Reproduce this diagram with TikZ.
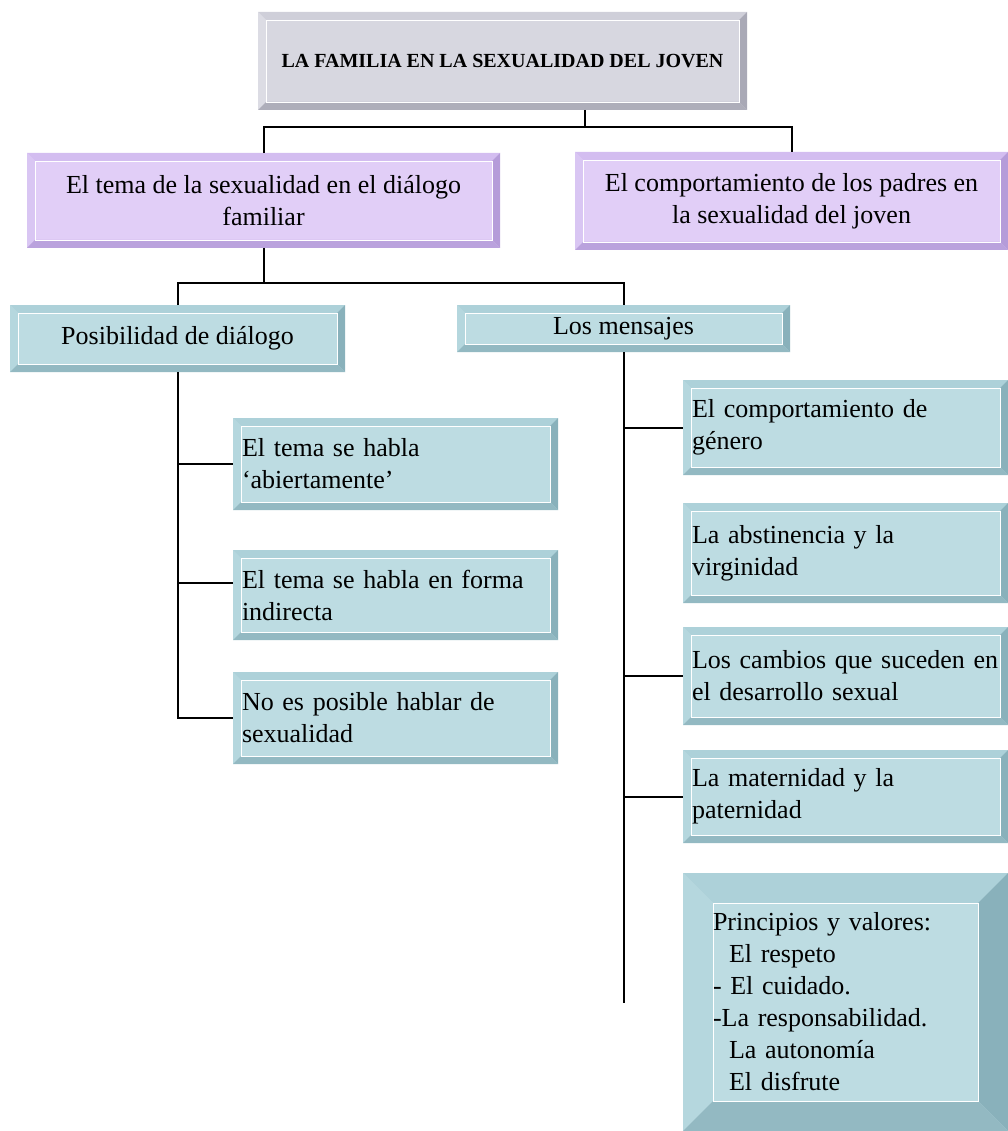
\documentclass[tikz,border=0pt]{standalone}
\usepackage{fontspec}
\setmainfont{Liberation Serif}

% colours of the bevelled boxes
\definecolor{famface}{HTML}{D7D7E0}
\definecolor{famtop}{HTML}{CFCFD9}
\definecolor{famleft}{HTML}{DCDCE4}
\definecolor{famright}{HTML}{A9A9B6}
\definecolor{fambot}{HTML}{AEAEBA}
\definecolor{lilaface}{HTML}{E1CEF7}
\definecolor{lilatop}{HTML}{D3BDF0}
\definecolor{lilaleft}{HTML}{D9C6F3}
\definecolor{lilaright}{HTML}{B59CD9}
\definecolor{lilabot}{HTML}{BAA2DD}
\definecolor{tealface}{HTML}{BDDCE2}
\definecolor{tealtop}{HTML}{ADD1D9}
\definecolor{tealleft}{HTML}{B5D7DE}
\definecolor{tealright}{HTML}{89B1BB}
\definecolor{tealbot}{HTML}{93B9C2}

\begin{document}
\begin{tikzpicture}[x=1pt,y=-1pt]
    \newcommand{\bev}{8} % depth of the bevel
    \newcommand{\bigbev}{30}
    \newcommand{\wire}{2pt} % width of the connectors

    % set the style of the boxes
    \tikzset{
        bevel/.style 2 args={
            rectangle, anchor=north west, outer sep=0pt, fill=#1face,
            font=\fontsize{26}{32}\selectfont,
            path picture={
                \path (path picture bounding box.north west) coordinate (nw)
                      (path picture bounding box.north east) coordinate (ne)
                      (path picture bounding box.south west) coordinate (sw)
                      (path picture bounding box.south east) coordinate (se);
                \fill[#1top] (nw) -- (ne) -- ([shift={(-#2pt,-#2pt)}]ne) -- ([shift={(#2pt,-#2pt)}]nw) -- cycle;
                \fill[#1left] (nw) -- ([shift={(#2pt,-#2pt)}]nw) -- ([shift={(#2pt,#2pt)}]sw) -- (sw) -- cycle;
                \fill[#1right] (ne) -- (se) -- ([shift={(-#2pt,#2pt)}]se) -- ([shift={(-#2pt,-#2pt)}]ne) -- cycle;
                \fill[#1bot] (sw) -- (se) -- ([shift={(-#2pt,#2pt)}]se) -- ([shift={(#2pt,#2pt)}]sw) -- cycle;
                \draw[white, line width=0.8pt] ([shift={(#2pt,-#2pt)}]nw) rectangle ([shift={(-#2pt,#2pt)}]se);
            }
        },
        lilabox/.style={bevel={lila}{\bev}, align=center},
        msgbox/.style={bevel={teal}{\bev}, minimum width=325pt, text width=307pt, inner xsep=9pt, align=left},
        wire/.style={draw, line width=\wire}
    }

    \path[use as bounding box] (0,0) rectangle (1008,1131);

    % boxes
    \node[bevel={fam}{\bev}, minimum width=489pt, minimum height=98pt, font=\bfseries\fontsize{20}{24}\selectfont] (fam) at (258,12) {LA FAMILIA EN LA SEXUALIDAD DEL JOVEN};
    \node[lilabox, minimum width=473pt, minimum height=95pt] (dial) at (27,153) {El tema de la sexualidad en el diálogo\\familiar};
    \node[lilabox, minimum width=433pt, minimum height=98pt] (padres) at (575,152) {El comportamiento de los padres en\\la sexualidad del joven};

    \node[bevel={teal}{\bev}, minimum width=335pt, minimum height=67pt] (posib) at (10,305) {Posibilidad de diálogo};
    \node[bevel={teal}{\bev}, minimum width=333pt, minimum height=47pt] (mens) at (457,305) {Los mensajes};

    \node[msgbox, minimum height=92pt] (hab1) at (233,418) {El tema se habla\\`abiertamente'};
    \node[msgbox, minimum height=90pt] (hab2) at (233,550) {El tema se habla en forma\\indirecta};
    \node[msgbox, minimum height=92pt] (hab3) at (233,672) {No es posible hablar de\\sexualidad};

    \node[msgbox, minimum height=95pt] (msgA) at (683,380) {El comportamiento de\\género};
    \node[msgbox, minimum height=100pt] (msgB) at (683,503) {La abstinencia y la\\virginidad};
    \node[msgbox, minimum height=98pt] (msgC) at (683,627) {Los cambios que suceden en\\el desarrollo sexual};
    \node[msgbox, minimum height=93pt] (msgD) at (683,750) {La maternidad y la\\paternidad};
    \node[bevel={teal}{\bigbev}, minimum width=325pt, minimum height=258pt, text width=265pt, inner xsep=30pt, align=left] (msgE) at (683,873)
        {Principios y valores:\\\hspace{16pt}El respeto\\- El cuidado.\\-La responsabilidad.\\\hspace{16pt}La autonomía\\\hspace{16pt}El disfrute};

    % connectors
    \coordinate (j1) at (585,127);
    \coordinate (j2) at ([yshift=-35pt]dial.south);
    \coordinate (mensend) at ([yshift=-651pt]mens.south);
    \path[wire] (fam.south -| j1) -- (j1);
    \path[wire] (dial.north) |- (j1) -| (padres.north);
    \path[wire] (dial.south) -- (j2);
    \path[wire] (posib.north) |- (j2) -| (mens.north);

    \path[wire] (posib.south) |- (hab1.west);
    \path[wire] (posib.south) |- ([yshift=12pt]hab2.west);
    \path[wire] (posib.south) |- (hab3.west);

    \path[wire] (mens.south) -- (mensend);
    \path[wire] (mens.south) |- (msgA.west);
    \path[wire] (mens.south) |- (msgC.west);
    \path[wire] (mens.south) |- (msgD.west);
\end{tikzpicture}
\end{document}
